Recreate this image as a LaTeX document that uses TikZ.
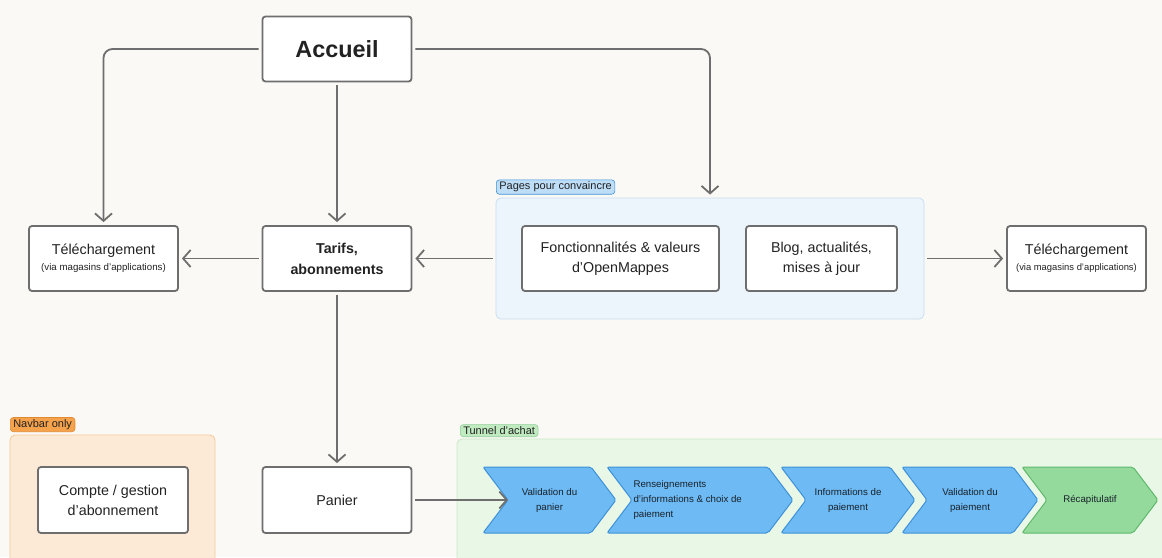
\documentclass[tikz,border=0pt]{standalone}
\usepackage{fontspec}
\setmainfont{Liberation Sans}
\usetikzlibrary{arrows.meta, positioning}
\definecolor{bg1}{RGB}{250,249,245}
\definecolor{gray1}{RGB}{110,110,110}
\definecolor{text1}{RGB}{34,34,34}
\definecolor{blue1}{RGB}{110,186,245}
\definecolor{blue2}{RGB}{62,145,214}
\definecolor{bluebg}{RGB}{237,245,252}
\definecolor{blueline}{RGB}{200,222,242}
\definecolor{bluetag}{RGB}{190,222,248}
\definecolor{orange1}{RGB}{245,162,76}
\definecolor{orange2}{RGB}{226,138,50}
\definecolor{orangebg}{RGB}{253,234,214}
\definecolor{orangeline}{RGB}{244,200,152}
\definecolor{green1}{RGB}{148,218,156}
\definecolor{green2}{RGB}{96,184,108}
\definecolor{greenbg}{RGB}{233,247,230}
\definecolor{greenline}{RGB}{204,232,199}
\definecolor{greentag}{RGB}{192,234,192}

\begin{document}
\begin{tikzpicture}[x=1pt, y=-1pt,
    page/.style={draw=gray1, fill=white, line width=1.8pt, rounded corners=3pt, minimum width=149pt, minimum height=65pt, align=center, text=text1, font=\fontsize{14.3}{20}\selectfont},
    group/.style={rounded corners=5pt, line width=0.8pt, minimum height=121pt},
    tag/.style={rounded corners=3pt, line width=0.6pt, inner xsep=3pt, inner ysep=2pt, anchor=south west, text=text1, font=\fontsize{11}{12}\selectfont},
    navarrow/.style={draw=gray1, line width=1.8pt, shorten <=3pt, shorten >=3pt, -{Straight Barb[length=7.5pt, width=17pt]}},
    chevron/.style={line width=1pt, rounded corners=2pt},
    steptext/.style={align=center, text=text1!80!blue2!60!black, font=\fontsize{9.7}{15}\selectfont}
]
    \useasboundingbox (0,0) rectangle (1162,557);
    \clip (0,0) rectangle (1162,557);
    \fill[bg1] (0,0) rectangle (1162,557);

    % groupes
    \node[group, draw=blueline, fill=bluebg, minimum width=428pt] (pages) at (710,258.5) {};
    \node[tag, draw=blue2, fill=bluetag] (pagestag) at (496,194.5) {Pages pour convaincre};
    \node[group, draw=orangeline, fill=orangebg, minimum width=205pt, minimum height=140pt] (navbar) at (112.5,505) {};
    \node[tag, draw=orange2, fill=orange1] (navbartag) at (10,432) {Navbar only};
    \node[group, draw=greenline, fill=greenbg, minimum width=730pt, minimum height=140pt] (tunnel) at (822,509) {};
    \node[tag, draw=green2!70, fill=greentag] (tunneltag) at (460,437) {Tunnel d'achat};

    % pages
    \node[page, font=\bfseries\fontsize{23.4}{26}\selectfont] (accueil) at (337,49) {Accueil};
    \node[page, font=\bfseries\fontsize{14.3}{21}\selectfont] (tarifs) at (337,258.5) {Tarifs,\\abonnements};
    \node[page] (tele1) at (103.5,258.5) {Téléchargement\\[-4pt]{\fontsize{9.7}{10}\selectfont (via magasins d'applications)}};
    \node[page, minimum width=197pt] (fonct) at (620.5,258.5) {Fonctionnalités \& valeurs\\d'OpenMappes};
    \node[page, minimum width=151pt] (blog) at (821.5,258.5) {Blog, actualités,\\mises à jour};
    \node[page, minimum width=139pt] (tele2) at (1076.5,258.5) {Téléchargement\\[-4pt]{\fontsize{9.4}{10}\selectfont (via magasins d'applications)}};
    \node[page, minimum height=66pt] (panier) at (337,500) {Panier};
    \node[page, minimum width=150pt, minimum height=66pt] (compte) at (113,500) {Compte / gestion\\d'abonnement};

    % tunnel d'achat
    \foreach \n/\l/\r/\c in {1/483/616/blue, 2/607/793/blue, 3/781/915/blue, 4/902/1038/blue, 5/1022/1158/green}
    {
        \draw[chevron, draw=\c2, fill=\c1] (\l,467) -- (\r-25,467) -- (\r,500) -- (\r-25,533) -- (\l,533) -- (\l+25,500) -- cycle;
        \coordinate (notch\n) at (\l+25,500);
    };
    \node[steptext] (step1) at (549.5,500) {Validation du\\panier};
    \node[steptext, align=left, anchor=west] (step2) at (630,500) {Renseignements\\d'informations \& choix de\\paiement};
    \node[steptext] (step3) at (848,500) {Informations de\\paiement};
    \node[steptext] (step4) at (970,500) {Validation du\\paiement};
    \node[steptext] (step5) at (1090,500) {Récapitulatif};

    \draw[navarrow, rounded corners=9pt] (accueil.west) -| (tele1.north);
    \draw[navarrow] (accueil.south) -- (tarifs.north);
    \draw[navarrow, rounded corners=9pt] (accueil.east) -| (pages.north);
    \draw[navarrow] (tarifs.west) -- (tele1.east);
    \draw[navarrow] (pages.west) -- (tarifs.east);
    \draw[navarrow] (pages.east) -- (tele2.west);
    \draw[navarrow] (tarifs.south) -- (panier.north);
    \draw[navarrow, shorten >=0pt] (panier.east) -- (notch1);
\end{tikzpicture}
\end{document}
